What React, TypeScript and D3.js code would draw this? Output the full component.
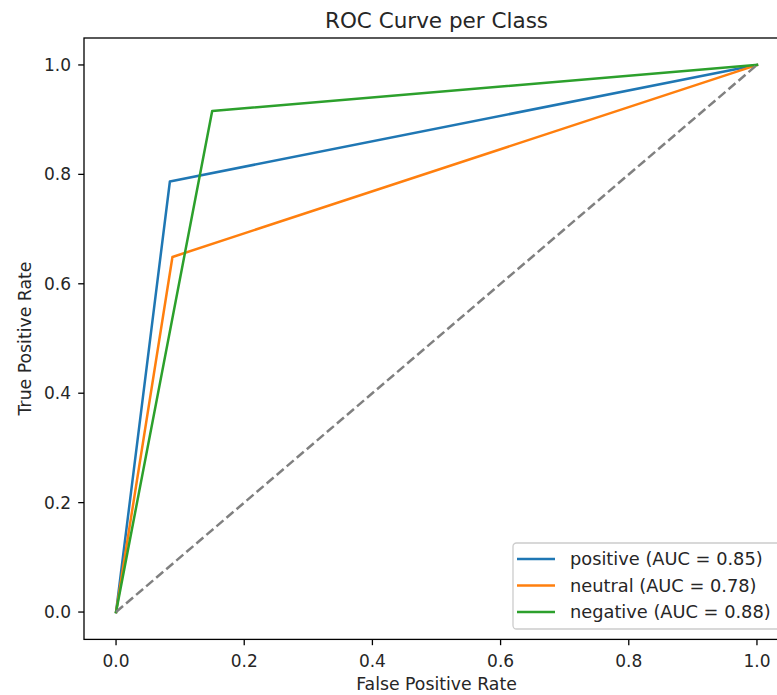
import React, { useRef, useEffect } from "react";
import * as d3 from "d3";

// ROC points (one operating point per class)
const classNames = ["positive", "neutral", "negative"];
const aucValues = [0.85, 0.78, 0.88];
const fprPositive = [0, 0.084, 1];
const tprPositive = [0, 0.787, 1];
const fprNeutral = [0, 0.088, 1];
const tprNeutral = [0, 0.649, 1];
const fprNegative = [0, 0.15, 1];
const tprNegative = [0, 0.916, 1];
const tickValues = [0, 0.2, 0.4, 0.6, 0.8, 1.0];
const colors = ["#1f77b4", "#ff7f0e", "#2ca02c"];

const App = () => {
  const svgRef = useRef<SVGSVGElement>(null);

  useEffect(() => {
    const width = 777;
    const height = 695;
    const font = "DejaVu Sans, sans-serif";

    const x = d3.scaleLinear().domain([-0.05, 1.05]).range([84, 789]);
    const y = d3.scaleLinear().domain([-0.05, 1.05]).range([639.4, 37.6]);

    const svg = d3.select(svgRef.current).attr("width", width).attr("height", height);
    svg.selectAll("*").remove();

    const series = [
      { fpr: fprPositive, tpr: tprPositive },
      { fpr: fprNeutral, tpr: tprNeutral },
      { fpr: fprNegative, tpr: tprNegative },
    ];

    const line = d3
      .line<[number, number]>()
      .x((d) => x(d[0]))
      .y((d) => y(d[1]));

    const plot = svg.append("g");

    series.forEach((s, i) => {
      const pts = s.fpr.map((f, j) => [f, s.tpr[j]] as [number, number]);
      plot
        .append("path")
        .attr("d", line(pts))
        .attr("fill", "none")
        .attr("stroke", colors[i])
        .attr("stroke-width", 2.5)
        .attr("stroke-linejoin", "round")
        .attr("stroke-linecap", "square");
    });

    // chance line
    plot
      .append("path")
      .attr("d", line([[0, 0], [1, 1]]))
      .attr("fill", "none")
      .attr("stroke", "gray")
      .attr("stroke-width", 2.5)
      .attr("stroke-dasharray", "9.2,4");

    // frame
    svg
      .append("rect")
      .attr("x", 84)
      .attr("y", 38)
      .attr("width", 789 - 84)
      .attr("height", 639.4 - 38)
      .attr("fill", "none")
      .attr("stroke", "black")
      .attr("stroke-width", 1.3);

    // x ticks
    const xt = svg.append("g");
    tickValues.forEach((t) => {
      xt.append("line")
        .attr("x1", x(t)).attr("x2", x(t))
        .attr("y1", 639.4).attr("y2", 645.2)
        .attr("stroke", "black").attr("stroke-width", 1.3);
      xt.append("text")
        .attr("x", x(t)).attr("y", 667)
        .attr("text-anchor", "middle")
        .attr("font-family", font).attr("font-size", 17)
        .attr("fill", "#262626")
        .text(t.toFixed(1));
    });

    // y ticks
    const yt = svg.append("g");
    tickValues.forEach((t) => {
      yt.append("line")
        .attr("x1", 84).attr("x2", 78.2)
        .attr("y1", y(t)).attr("y2", y(t))
        .attr("stroke", "black").attr("stroke-width", 1.3);
      yt.append("text")
        .attr("x", 71).attr("y", y(t))
        .attr("dy", "0.36em")
        .attr("text-anchor", "end")
        .attr("font-family", font).attr("font-size", 17)
        .attr("fill", "#262626")
        .text(t.toFixed(1));
    });

    // labels
    svg.append("text")
      .attr("x", 436.5).attr("y", 28)
      .attr("text-anchor", "middle")
      .attr("font-family", font).attr("font-size", 21.5)
      .attr("fill", "#262626")
      .text("ROC Curve per Class");

    svg.append("text")
      .attr("x", 436.5).attr("y", 690)
      .attr("text-anchor", "middle")
      .attr("font-family", font).attr("font-size", 17.3)
      .attr("fill", "#262626")
      .text("False Positive Rate");

    svg.append("text")
      .attr("transform", "translate(31,338.5) rotate(-90)")
      .attr("text-anchor", "middle")
      .attr("font-family", font).attr("font-size", 17.3)
      .attr("fill", "#262626")
      .text("True Positive Rate");

    // legend
    const lg = svg.append("g");
    lg.append("rect")
      .attr("x", 513).attr("y", 543)
      .attr("width", 268).attr("height", 86)
      .attr("rx", 3.5)
      .attr("fill", "white").attr("fill-opacity", 0.8)
      .attr("stroke", "#cccccc").attr("stroke-width", 1.3);

    classNames.forEach((name, i) => {
      const ry = 559 + i * 26.5;
      lg.append("line")
        .attr("x1", 517).attr("x2", 555)
        .attr("y1", ry).attr("y2", ry)
        .attr("stroke", colors[i]).attr("stroke-width", 2.5);
      lg.append("text")
        .attr("x", 570).attr("y", ry)
        .attr("dy", "0.36em")
        .attr("font-family", font).attr("font-size", 17.8)
        .attr("fill", "#262626")
        .text(`${name} (AUC = ${aucValues[i].toFixed(2)})`);
    });
  }, []);

  return (
    <div style={{ position: "absolute", left: 0, top: 0 }}>
      <svg ref={svgRef} style={{ display: "block" }}></svg>
    </div>
  );
};

export default App;
